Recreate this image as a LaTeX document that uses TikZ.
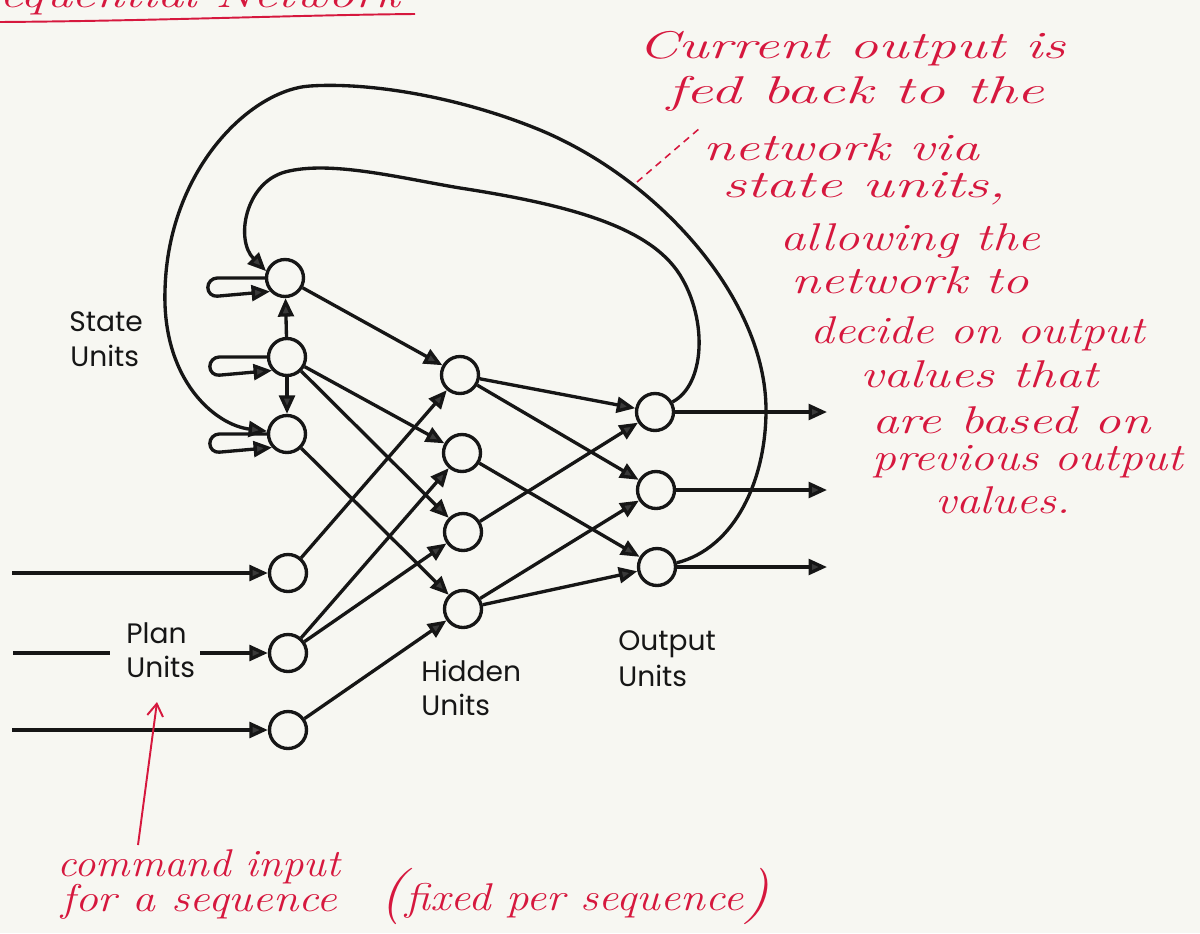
\documentclass[tikz,border=0pt]{standalone}
\usepackage{fontspec}
\usepackage{graphicx}
\newfontfamily\labelfont{Poppins}
\usetikzlibrary{arrows.meta}

\definecolor{paper}{RGB}{247,247,242}
\definecolor{ink}{RGB}{22,22,22}
\definecolor{headfill}{RGB}{58,58,58}
\definecolor{pen}{RGB}{214,24,62}

% handwritten notes: italic text stretched horizontally to a given width
\newcommand\hand{\fontsize{22}{24}\selectfont\itshape}
\newcommand\handline[2]{\resizebox{#1}{\height}{\hand #2}}
\newcommand\bigparen[1]{{\fontsize{32}{32}\selectfont #1}}

\begin{document}
\begin{tikzpicture}[x=0.02cm,y=-0.02cm,
  unit/.style={circle,draw=ink,line width=1.9pt,fill=paper,minimum size=0.74cm,inner sep=0pt},
  arr/.style={draw=ink,line width=1.9pt,-{Triangle[length=10.5pt,width=9pt,fill=headfill]}},
  wire/.style={draw=ink,line width=1.9pt},
  lbl/.style={font=\labelfont\fontsize{16}{19}\selectfont,text=ink,inner sep=0pt,anchor=base west},
  note/.style={text=pen,inner sep=0pt,anchor=base west},
  penline/.style={draw=pen,line width=1.1pt},
]
\fill[paper] (0,0) rectangle (1200,933);
\useasboundingbox (0,0) rectangle (1200,933);
\clip (0,0) rectangle (1200,933);

% ---------------- units ----------------
\node[unit] (S1) at (285,278) {};
\node[unit] (S2) at (287,357) {};
\node[unit] (S3) at (287,434) {};
\node[unit] (P1) at (288,573) {};
\node[unit] (P2) at (288,653) {};
\node[unit] (P3) at (288,730) {};
\node[unit] (H1) at (460,375) {};
\node[unit] (H2) at (462,453) {};
\node[unit] (H3) at (463,532) {};
\node[unit] (H4) at (463,609) {};
\node[unit] (O1) at (655,412) {};
\node[unit] (O2) at (656,490) {};
\node[unit] (O3) at (657,567) {};

% free ends of the input and output lines
\coordinate (in1) at (12,573);
\coordinate (in2a) at (13,653);
\coordinate (in2b) at (110,653);
\coordinate (in2c) at (200,653);
\coordinate (in3) at (12,730);
\coordinate (out1) at (827,412);
\coordinate (out2) at (827,490);
\coordinate (out3) at (827,567);

% ---------------- labels ----------------
\node[lbl] (stateA) at (69,331) {State};
\node[lbl] (stateB) at (70,366) {Units};
\node[lbl] (planA) at (126,643) {Plan};
\node[lbl] (planB) at (126,677) {Units};
\node[lbl] (hidA) at (421,681) {Hidden};
\node[lbl] (hidB) at (421,715) {Units};
\node[lbl] (outA) at (618,650) {Output};
\node[lbl] (outB) at (618,686) {Units};

% ---------------- state unit self loops ----------------
\foreach \s in {S1,S2,S3}
  \draw[arr,rounded corners=0.19cm] (\s.west) -- ++(-57,0) -- ++(0,19) -- (\s.222);
\draw[arr] (S2) -- (S1);
\draw[arr] (S2) -- (S3);

% ---------------- inputs ----------------
\draw[arr] (in1) -- (P1);
\draw[wire] (in2a) -- (in2b);
\draw[arr] (in2c) -- (P2);
\draw[arr] (in3) -- (P3);

% ---------------- to hidden ----------------
\draw[arr] (S1) -- (H1);
\draw[arr] (S2) -- (H2);
\draw[arr] (S2) -- (H3);
\draw[arr] (S3) -- (H4);
\draw[arr] (P1) -- (H1);
\draw[arr] (P2) -- (H2);
\draw[arr] (P2) -- (H3);
\draw[arr] (P3) -- (H4);

% ---------------- to output ----------------
\draw[arr] (H1) -- (O1);
\draw[arr] (H1) -- (O2);
\draw[arr] (H2) -- (O3);
\draw[arr] (H3) -- (O1);
\draw[arr] (H4) -- (O2);
\draw[arr] (H4) -- (O3);

\draw[arr] (O1) -- (out1);
\draw[arr] (O2) -- (out2);
\draw[arr] (O3) -- (out3);

% ---------------- feedback from outputs to state units ----------------
\draw[arr] (O1.30) .. controls (705,385) and (708,320) .. (680,275)
  .. controls (650,227) and (570,205) .. (460,188)
  .. controls (400,178) and (330,160) .. (285,172)
  .. controls (245,183) and (235,240) .. (S1.160);
\draw[arr] (O3.12) .. controls (735,548) and (766,480) .. (766,410)
  .. controls (766,300) and (660,180) .. (540,130)
  .. controls (460,97) and (370,82) .. (310,86)
  .. controls (250,90) and (168,170) .. (165,290)
  .. controls (162,380) and (215,425) .. (S3.172);

% ---------------- pen notes ----------------
\node[note] (title) at (-30,8) {\handline{8.6cm}{Sequential Network}};
\draw[penline] (0,22) .. controls (150,21) and (300,15) .. (415,14);

\node[note] (n1) at (638,58) {\handline{8.54cm}{Current output is}};
\node[note] (n2) at (667,103) {\handline{7.54cm}{fed back to the}};
\node[note] (n3) at (703,160) {\handline{5.52cm}{network via}};
\node[note] (n4) at (722,197) {\handline{5.68cm}{state units,}};
\node[note] (n5) at (780,250) {\handline{5.2cm}{allowing the}};
\node[note] (n6) at (791,293) {\handline{4.76cm}{network to}};
\node[note] (n7) at (810,343) {\handline{6.7cm}{decide on output}};
\node[note] (n8) at (860,387) {\handline{4.76cm}{values that}};
\node[note] (n9) at (872,433) {\handline{5.56cm}{are based on}};
\node[note] (n10) at (872,470) {\handline{6.22cm}{previous output}};
\node[note] (n11) at (935,513) {\handline{2.7cm}{values.}};

\coordinate (dashA) at (637,182);
\coordinate (dashB) at (700,128);
\draw[draw=pen,line width=0.9pt,dash pattern=on 4pt off 3pt] (dashA) -- (dashB);

\node[note] (c1) at (57,876) {\handline{5.66cm}{command input}};
\node[note] (c2) at (61,911) {\handline{5.52cm}{for a sequence}};
\node[note] (c3) at (379,910) {\resizebox{7.8cm}{\height}{\hand\bigparen{(}fixed per sequence\bigparen{)}}};

\coordinate (cmdtail) at (138,845);
\coordinate (cmdtip) at (157,702);
\draw[penline,-{Straight Barb[length=7pt,width=9pt]}] (cmdtail) -- (cmdtip);
\end{tikzpicture}
\end{document}
